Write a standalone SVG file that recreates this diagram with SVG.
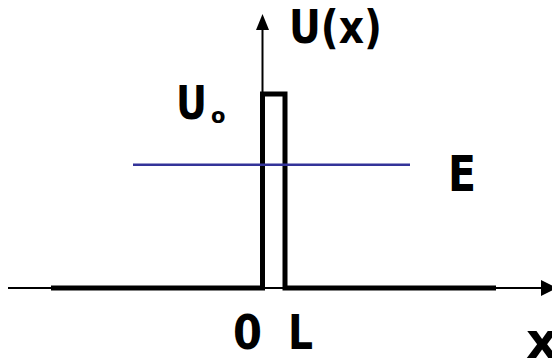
<svg xmlns="http://www.w3.org/2000/svg" width="552" height="358" viewBox="0 0 552 358">
<style>
.lbl{font-family:"DejaVu Sans","Liberation Sans",sans-serif;font-weight:bold;fill:#000}
.axis{stroke:#000;stroke-width:2;fill:none}
.pot{stroke:#000;stroke-width:5;fill:none;stroke-linejoin:miter}
</style>
<rect width="552" height="358" fill="#fff"/>
<g id="axes">
<line class="axis" x1="8" y1="288" x2="545" y2="288"/>
<polygon points="541,280 557,288 541,296" fill="#000"/>
<line class="axis" x1="262.5" y1="94" x2="262.5" y2="28"/>
<polygon points="256,30 262.5,14 269,30" fill="#000"/>
</g>
<g id="potential">
<polyline class="pot" points="51,288 262.5,288 262.5,94 285,94 285,288 496,288"/>
</g>
<g id="energy">
<line x1="133" y1="164.7" x2="410" y2="164.7" stroke="#333399" stroke-width="2.5"/>
</g>
<g id="labels">
<text class="lbl" x="289" y="43" font-size="46" textLength="93" lengthAdjust="spacingAndGlyphs">U(x)</text>
<text class="lbl" x="176" y="119" font-size="46" textLength="31" lengthAdjust="spacingAndGlyphs">U</text>
<text class="lbl" x="211" y="123" font-size="21">o</text>
<text class="lbl" x="448" y="191" font-size="50" textLength="28" lengthAdjust="spacingAndGlyphs">E</text>
<text class="lbl" x="233" y="349" font-size="48" textLength="29" lengthAdjust="spacingAndGlyphs">0</text>
<text class="lbl" x="288" y="349" font-size="48" textLength="25" lengthAdjust="spacingAndGlyphs">L</text>
<text class="lbl" x="526" y="358" font-size="50">x</text>
</g>
</svg>
